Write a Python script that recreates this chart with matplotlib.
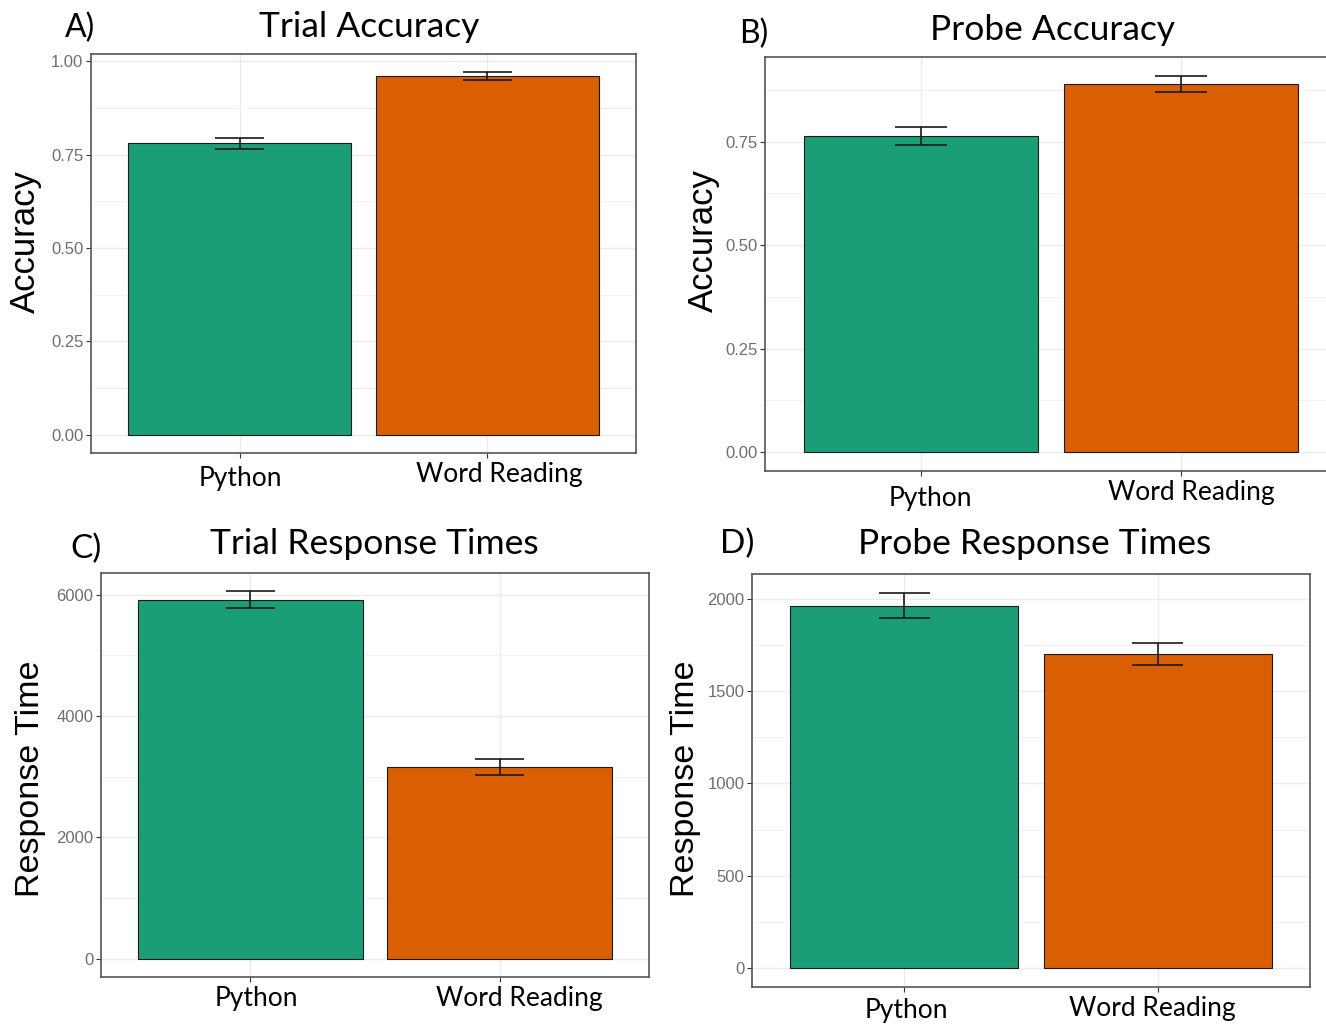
import matplotlib
matplotlib.use("Agg")
import matplotlib.pyplot as plt
from matplotlib.ticker import MultipleLocator, FixedLocator
from matplotlib.transforms import ScaledTranslation

# ---- data ----
categories = ["Python", "Word Reading"]
trial_acc_mean = [0.78, 0.96]
trial_acc_se = [0.014, 0.011]
probe_acc_mean = [0.764, 0.889]
probe_acc_se = [0.021, 0.020]
trial_rt_mean = [5915, 3160]
trial_rt_se = [140, 127]
probe_rt_mean = [1962, 1700]
probe_rt_se = [69, 61]

acc_ticks = [0.00, 0.25, 0.50, 0.75, 1.00]
acc_ticklabels = ["0.00", "0.25", "0.50", "0.75", "1.00"]
trial_rt_ticks = [0, 2000, 4000, 6000]
probe_rt_ticks = [0, 500, 1000, 1500, 2000]

bar_colors = ["#1B9E77", "#D95F02"]

W, H = 1326, 1025
DPI = 100
fig = plt.figure(figsize=(W / DPI, H / DPI), dpi=DPI)
fig.patch.set_facecolor("white")

TITLE_FONT = ["Lato", "DejaVu Sans"]
TICK_FONT = ["Liberation Sans Narrow", "Liberation Sans", "DejaVu Sans"]
YLAB_FONT = ["Liberation Sans", "DejaVu Sans"]


def px_axes(l, r, t, b):
    return [l / W, (H - b) / H, (r - l) / W, (b - t) / H]


def panel(rect, means, ses, ticks, ticklabels, minor_step, xlab_offsets):
    ax = fig.add_axes(px_axes(*rect))
    x = [1, 2]
    hi = max(m + s for m, s in zip(means, ses))
    pad = 0.05 * hi
    ax.set_ylim(-pad, hi + pad)
    ax.set_xlim(0.4, 2.6)
    ax.set_axisbelow(True)
    ax.bar(x, means, width=0.9, color=bar_colors, edgecolor="#1a1a1a",
           linewidth=0.8, zorder=2)
    lo_e = [m - s for m, s in zip(means, ses)]
    hi_e = [m + s for m, s in zip(means, ses)]
    ax.vlines(x, lo_e, hi_e, color="#1a1a1a", linewidth=1.2, zorder=3)
    ax.hlines(lo_e, [v - 0.1 for v in x], [v + 0.1 for v in x],
              color="#1a1a1a", linewidth=1.2, zorder=3)
    ax.hlines(hi_e, [v - 0.1 for v in x], [v + 0.1 for v in x],
              color="#1a1a1a", linewidth=1.2, zorder=3)
    ax.yaxis.set_major_locator(FixedLocator(ticks))
    ax.set_yticklabels(ticklabels)
    ax.yaxis.set_minor_locator(MultipleLocator(minor_step))
    ax.set_xticks(x)
    ax.set_xticklabels(categories)
    ax.grid(which="major", color="#EBEBEB", linewidth=1.0)
    ax.grid(which="minor", axis="y", color="#F2F2F2", linewidth=0.7)
    ax.tick_params(axis="y", which="major", length=3.5, width=0.8,
                   color="#333333", labelcolor="#6e6e6e", labelsize=12, pad=2)
    ax.tick_params(axis="y", which="minor", length=0)
    ax.tick_params(axis="x", length=3.5, width=0.8, color="#333333",
                   labelcolor="black", labelsize=19, pad=3)
    for lab in ax.get_yticklabels():
        lab.set_family(TICK_FONT)
    for lab, (dx, dy) in zip(ax.get_xticklabels(), xlab_offsets):
        lab.set_family(TITLE_FONT)
        lab.set_transform(lab.get_transform() +
                          ScaledTranslation(dx / DPI, -dy / DPI, fig.dpi_scale_trans))
    for sp in ax.spines.values():
        sp.set_color("#555555")
        sp.set_linewidth(1.2)
    return ax


axA = panel((91, 636, 54, 453), trial_acc_mean, trial_acc_se,
            acc_ticks, acc_ticklabels, 0.125, [(1, 4), (12, 0)])
axB = panel((765, 1337, 57, 471), probe_acc_mean, probe_acc_se,
            acc_ticks, acc_ticklabels, 0.125, [(9, 6), (10, 0)])
axC = panel((101, 649, 573, 977), trial_rt_mean, trial_rt_se,
            trial_rt_ticks, [str(t) for t in trial_rt_ticks], 1000, [(6, 0), (20, 0)])
axD = panel((752, 1310, 574, 987), probe_rt_mean, probe_rt_se,
            probe_rt_ticks, [str(t) for t in probe_rt_ticks], 250, [(2, 2), (-6, 0)])


def ftext(xp, yp, s, size, family, **kw):
    fig.text(xp / W, 1 - yp / H, s, fontsize=size, family=family,
             ha="center", va="center", **kw)


# titles and panel letters
ftext(369, 27, "Trial Accuracy", 25.5, TITLE_FONT)
ftext(80, 28, "A)", 23, TITLE_FONT)
ftext(1052, 30, "Probe Accuracy", 25.5, TITLE_FONT)
ftext(754, 34, "B)", 23, TITLE_FONT)
ftext(374, 544, "Trial Response Times", 25.5, TITLE_FONT)
ftext(86, 549, "C)", 24, TITLE_FONT)
ftext(1035, 544, "Probe Response Times", 25.5, TITLE_FONT)
ftext(737, 544, "D)", 24, TITLE_FONT)

# y-axis labels
ftext(25, 242, "Accuracy", 25, YLAB_FONT, rotation=90)
ftext(703, 241, "Accuracy", 25, YLAB_FONT, rotation=90)
ftext(31, 779, "Response Time", 24.5, YLAB_FONT, rotation=90)
ftext(685, 779, "Response Time", 24.5, YLAB_FONT, rotation=90)

fig.savefig("out.png", dpi=DPI, facecolor="white")
